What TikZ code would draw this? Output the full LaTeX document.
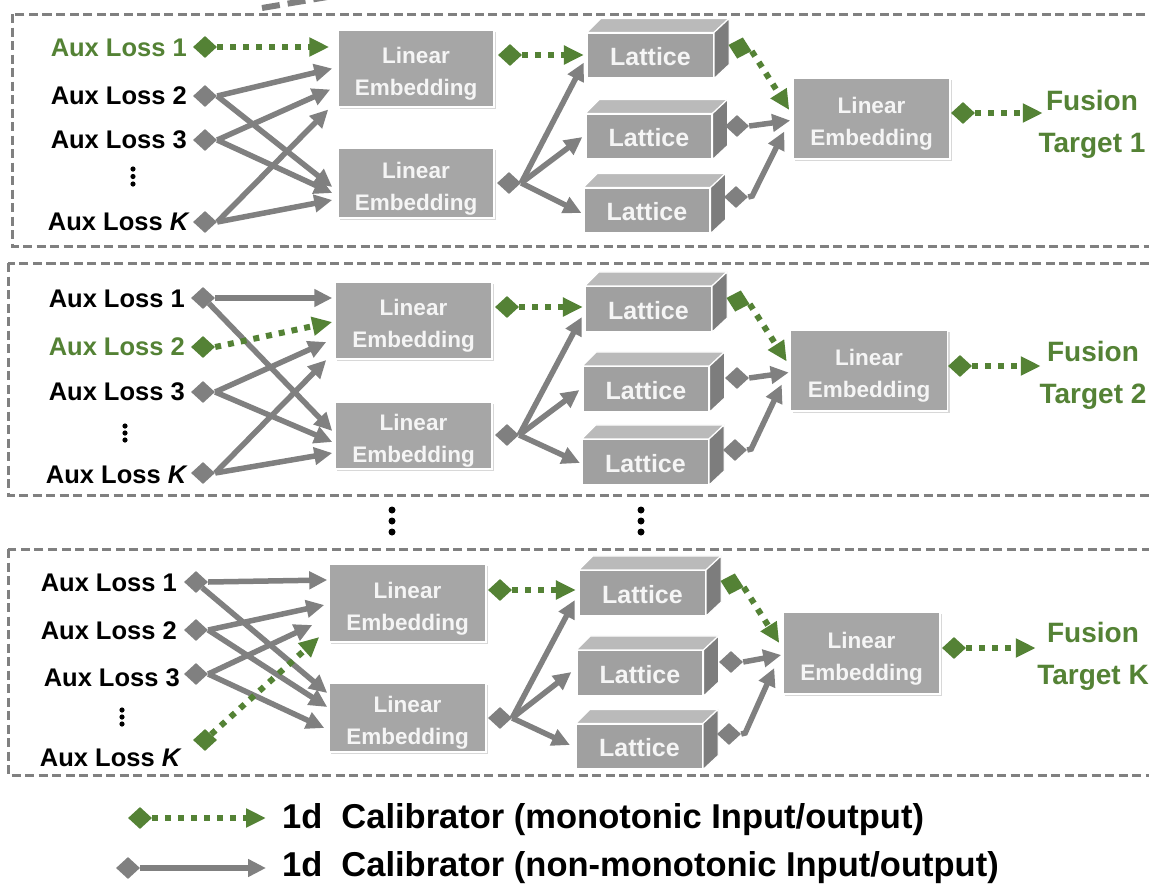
\documentclass[tikz,border=0pt]{standalone}
\usepackage{fontspec}
\setmainfont{Liberation Sans}
\usetikzlibrary{arrows.meta,shapes.geometric,calc,shadows}
\definecolor{arrowgray}{RGB}{128,128,128}
\definecolor{bordergray}{RGB}{128,128,128}
\definecolor{boxgray}{RGB}{166,166,166}
\definecolor{latfront}{RGB}{160,160,160}
\definecolor{lattopc}{RGB}{186,186,186}
\definecolor{latsidec}{RGB}{125,125,125}
\definecolor{mygreen}{RGB}{84,130,53}
\definecolor{boxtext}{RGB}{245,245,245}
\tikzset{
 panel/.style={draw=bordergray, line width=3pt, dash pattern=on 9pt off 4.5pt},
 lebox/.style={rectangle, fill=boxgray, draw=white, line width=1.5pt, text=boxtext,
   font=\fontsize{22.5}{32}\selectfont\bfseries, align=center, inner sep=0pt,
   drop shadow={opacity=0.3, shadow xshift=2pt, shadow yshift=-2pt}},
 latt/.style={rectangle, fill=latfront, draw=white, line width=1.2pt, text=boxtext,
   font=\fontsize{25}{25}\selectfont\bfseries, minimum width=126pt, minimum height=45pt, inner sep=0pt},
 lattop/.style={fill=lattopc, draw=white, line width=1.2pt, line join=round},
 latside/.style={fill=latsidec, draw=white, line width=1.2pt, line join=round},
 lbl/.style={font=\fontsize{25.5}{26}\selectfont\bfseries, inner sep=0pt, text height=19pt, text depth=0pt, anchor=east},
 glbl/.style={lbl, text=mygreen},
 dia/.style={diamond, fill=arrowgray, minimum width=24pt, minimum height=22pt, inner sep=0pt},
 gdia/.style={dia, fill=mygreen},
 nm/.style={draw=arrowgray, line width=5.5pt, -{Triangle[length=18pt,width=17pt]}},
 mono/.style={draw=mygreen, line width=6pt, dash pattern=on 6pt off 7pt, -{Triangle[length=20pt,width=18pt]}},
 tgt/.style={text=mygreen, font=\fontsize{28}{42}\selectfont\bfseries, align=center, inner sep=0pt},
 legtext/.style={font=\fontsize{34.5}{35}\selectfont\bfseries, anchor=west, inner sep=0pt},
}
\newcommand{\letext}{\rule{0pt}{27pt}Linear\\Embedding}
\newcommand{\latbox}[2]{%
  \node[latt] (#1) at (#2) {\rule{0pt}{21pt}Lattice};
  \filldraw[lattop] (#1.north west) -- ++(14,-14) -- ($(#1.north east)+(15,-14)$) -- (#1.north east) -- cycle;
  \filldraw[latside] (#1.north east) -- ++(15,-14) -- ($(#1.south east)+(15,-14)$) -- (#1.south east) -- cycle;
}
\begin{document}
\begin{tikzpicture}[x=1pt,y=-1pt]
\clip (0,0) rectangle (1149,892);
\fill[white] (0,0) rectangle (1149,892);

% stray dashed piece at the top
\draw[draw=bordergray, line width=6pt, dash pattern=on 18pt off 8pt] (262,8) -- (345,-6);

% ================= panel 1 =================
\draw[panel] (12,14) rectangle (1170,246);
\node[glbl] (p1a1) at (187,47) {Aux Loss 1};
\node[lbl] (p1a2) at (187,95) {Aux Loss 2};
\node[lbl] (p1a3) at (187,139) {Aux Loss 3};
\node[lbl] (p1ak) at (190,221) {Aux Loss \textit{K}};
\fill (133,169) circle (2.6) (133,176.5) circle (2.6) (133,184) circle (2.6);
\node[lebox, minimum width=156pt, minimum height=77pt] (p1e1) at (416,68.5) {\letext};
\node[lebox, minimum width=156pt, minimum height=70pt] (p1e2) at (416,183) {\letext};
\latbox{p1l1}{650.5,55.5}
\latbox{p1l2}{649,136.5}
\latbox{p1l3}{647,210.5}
\node[lebox, minimum width=157pt, minimum height=81pt] (p1f) at (871.5,118.5) {\letext};
\node[tgt] (p1t) at (1092,124) {Fusion\\Target 1};
\node[gdia] (p1d1) at (205,47) {};
\node[dia] (p1d2) at (205,96) {};
\node[dia] (p1d3) at (205,140) {};
\node[dia] (p1dk) at (205,222) {};
\node[gdia] (p1e1d) at (510,55) {};
\node[dia] (p1e2d) at (509,183) {};
\node[gdia, rotate=-15] (p1l1d) at (740,48) {};
\node[dia] (p1l2d) at (737,126) {};
\node[dia] (p1l3d) at (736,197) {};
\node[gdia] (p1fd) at (963,113) {};
\draw[mono] (p1d1.east) -- ($(p1e1.west)+(-8,-21.5)$);
\draw[nm] (p1d2.east) -- ($(p1e1.west)+(-5,0)$);
\draw[nm] (p1d2.east) -- ($(p1e2.west)+(-5,4)$);
\draw[nm] (p1d3.east) -- ($(p1e1.west)+(-7,21)$);
\draw[nm] (p1d3.east) -- ($(p1e2.west)+(-5,10)$);
\draw[nm] (p1dk.east) -- ($(p1e1.west)+(-9,41)$);
\draw[nm] (p1dk.east) -- ($(p1e2.west)+(-5,17)$);
\draw[mono] (p1e1d.east) -- ($(p1l1.west)+(-3,-0.5)$);
\draw[nm] (p1e2d.east) -- ($(p1l1.west)+(-3,7)$);
\draw[nm] (p1e2d.east) -- ($(p1l2.west)+(-3,0.5)$);
\draw[nm] (p1e2d.east) -- ($(p1l3.west)+(-2,2.5)$);
\draw[mono] (p1l1d.east) -- ($(p1f.west)+(-3,-8.5)$);
\draw[nm] (p1l2d.east) -- ($(p1f.west)+(-2,2)$);
\draw[nm] (p1l3d.east) -- ++(4,-1) -- ($(p1f.west)+(-8,13)$);
\draw[mono] (p1fd.east) -- ($(p1f.east)+(92,-5.5)$);

% ================= panel 2 =================
\draw[panel] (8,263) rectangle (1170,495);
\node[lbl] (p2a1) at (185,298) {Aux Loss 1};
\node[glbl] (p2a2) at (185,346) {Aux Loss 2};
\node[lbl] (p2a3) at (185,391) {Aux Loss 3};
\node[lbl] (p2ak) at (188,474) {Aux Loss \textit{K}};
\fill (125,426) circle (2.6) (125,433) circle (2.6) (125,440) circle (2.6);
\node[lebox, minimum width=157pt, minimum height=77pt] (p2e1) at (413.5,320.5) {\letext};
\node[lebox, minimum width=157pt, minimum height=67pt] (p2e2) at (413.5,435.5) {\letext};
\latbox{p2l1}{648.5,309}
\latbox{p2l2}{646,389}
\latbox{p2l3}{645.5,462}
\node[lebox, minimum width=157pt, minimum height=81pt] (p2f) at (869,370.5) {\letext};
\node[tgt] (p2t) at (1093,375) {Fusion\\Target 2};
\node[dia] (p2d1) at (203,298) {};
\node[gdia] (p2d2) at (203,347) {};
\node[dia] (p2d3) at (203,392) {};
\node[dia] (p2dk) at (203,473) {};
\node[gdia] (p2e1d) at (507,307) {};
\node[dia] (p2e2d) at (507,435) {};
\node[gdia, rotate=-15] (p2l1d) at (738,301) {};
\node[dia] (p2l2d) at (737,378) {};
\node[dia] (p2l3d) at (735,450) {};
\node[gdia] (p2fd) at (960,366) {};
\draw[nm] (p2d1.east) -- ($(p2e1.west)+(-2,-22.5)$);
\draw[nm] (p2d1.south east) -- ($(p2e2.west)+(-2,-4.5)$);
\draw[mono] (p2d2.east) -- ($(p2e1.west)+(-2,1.5)$);
\draw[nm] (p2d3.east) -- ($(p2e1.west)+(-8,21.5)$);
\draw[nm] (p2d3.east) -- ($(p2e2.west)+(-2,6.5)$);
\draw[nm] (p2dk.east) -- ($(p2e1.west)+(-8,39.5)$);
\draw[nm] (p2dk.east) -- ($(p2e2.west)+(-2,17.5)$);
\draw[mono] (p2e1d.east) -- ($(p2l1.west)+(-2,-2)$);
\draw[nm] (p2e2d.east) -- ($(p2l1.west)+(-3,8)$);
\draw[nm] (p2e2d.east) -- ($(p2l2.west)+(-3,1)$);
\draw[nm] (p2e2d.east) -- ($(p2l3.west)+(-2,1)$);
\draw[mono] (p2l1d.east) -- ($(p2f.west)+(-3,-9)$);
\draw[nm] (p2l2d.east) -- ($(p2f.west)+(-1,2)$);
\draw[nm] (p2l3d.east) -- ++(4,-1) -- ($(p2f.west)+(-8,14)$);
\draw[mono] (p2fd.east) -- ($(p2f.east)+(92.5,-4.5)$);

% middle ellipsis
\fill (392,510) circle (3.5) (392,521) circle (3.5) (392,532) circle (3.5);
\fill (641,510) circle (3.5) (641,521) circle (3.5) (641,532) circle (3.5);

% ================= panel 3 =================
\draw[panel] (8,549) rectangle (1170,775);
\node[lbl] (p3a1) at (177,582) {Aux Loss 1};
\node[lbl] (p3a2) at (177,630) {Aux Loss 2};
\node[lbl] (p3a3) at (180,677) {Aux Loss 3};
\node[lbl] (p3ak) at (182,757) {Aux Loss \textit{K}};
\fill (122,710) circle (2.6) (122,717) circle (2.6) (122,724) circle (2.6);
\node[lebox, minimum width=157pt, minimum height=78pt] (p3e1) at (407.5,603) {\letext};
\node[lebox, minimum width=157pt, minimum height=69pt] (p3e2) at (407.5,717.5) {\letext};
\latbox{p3l1}{642.5,593}
\latbox{p3l2}{640,673}
\latbox{p3l3}{639.5,746.5}
\node[lebox, minimum width=157pt, minimum height=82pt] (p3f) at (861.5,653) {\letext};
\node[tgt] (p3t) at (1093,656) {Fusion\\Target K};
\node[dia] (p3d1) at (196,582) {};
\node[dia] (p3d2) at (196,630) {};
\node[dia] (p3d3) at (196,674) {};
\node[gdia] (p3dk) at (205,740) {};
\node[gdia] (p3e1d) at (500,590) {};
\node[dia] (p3e2d) at (500,718) {};
\node[gdia, rotate=-15] (p3l1d) at (732,584) {};
\node[dia] (p3l2d) at (731,662) {};
\node[dia] (p3l3d) at (729,734) {};
\node[gdia] (p3fd) at (954,648) {};
\draw[nm] (p3d1.east) -- ($(p3e1.west)+(-1,-23)$);
\draw[nm] (p3d1.south east) -- ($(p3e2.west)+(-1,-24.5)$);
\draw[nm] (p3d2.east) -- ($(p3e1.west)+(-4,2)$);
\draw[nm] (p3d2.east) -- ($(p3e2.west)+(-1,-10.5)$);
\draw[nm] (p3d3.east) -- ($(p3e1.west)+(-16,22)$);
\draw[nm] (p3d3.east) -- ($(p3e2.west)+(-4,10.5)$);
\draw[mono] (p3dk.north east) -- ($(p3e1.west)+(-9,34)$);
\draw[mono] (p3e1d.east) -- ($(p3l1.west)+(-3,-3)$);
\draw[nm] (p3e2d.east) -- ($(p3l1.west)+(-4,7)$);
\draw[nm] (p3e2d.east) -- ($(p3l2.west)+(-5,-1)$);
\draw[nm] (p3e2d.east) -- ($(p3l3.west)+(-6,-1.5)$);
\draw[mono] (p3l1d.east) -- ($(p3f.west)+(-3,-10)$);
\draw[nm] (p3l2d.east) -- ($(p3f.west)+(-1,2)$);
\draw[nm] (p3l3d.east) -- ++(4,-1) -- ($(p3f.west)+(-8,15)$);
\draw[mono] (p3fd.east) -- ($(p3f.east)+(95,-5)$);

% ================= legend =================
\node[gdia] (lg1d) at (140,818) {};
\node[legtext] (lg1t) at (282,820) {1d\hspace{0.55em}Calibrator (monotonic Input/output)};
\draw[mono] (lg1d.east) -- ($(lg1t.west)+(-16,-2)$);
\node[dia] (lg2d) at (128,868) {};
\node[legtext] (lg2t) at (282,868) {1d\hspace{0.55em}Calibrator (non-monotonic Input/output)};
\draw[nm] (lg2d.east) -- ($(lg2t.west)+(-16,0)$);
\end{tikzpicture}
\end{document}
